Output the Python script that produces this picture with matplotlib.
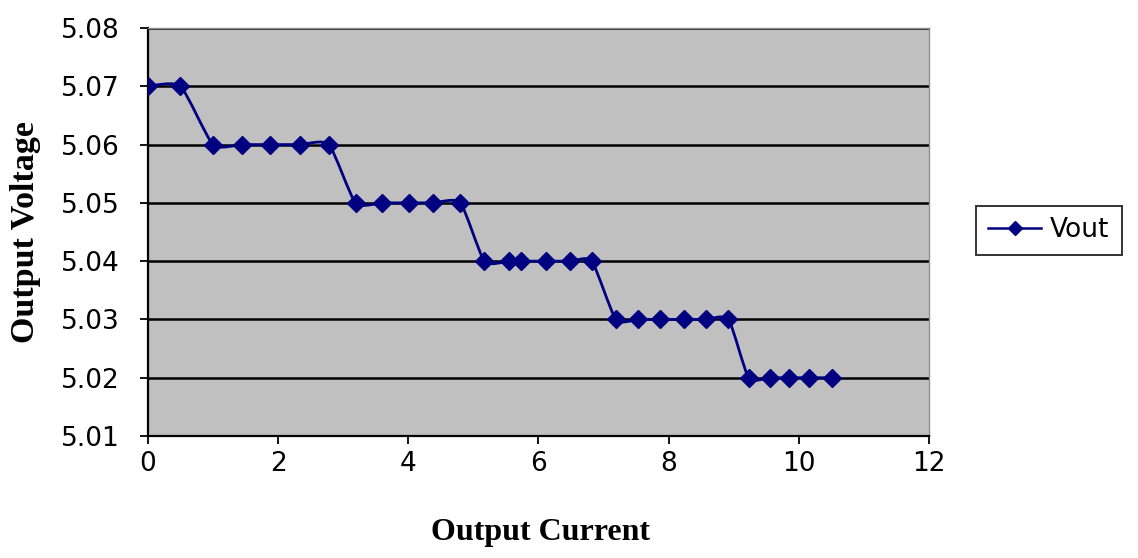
import numpy as np
import matplotlib.pyplot as plt
from matplotlib.path import Path
from matplotlib.patches import PathPatch
from matplotlib.lines import Line2D

# data
current = [0.0, 0.5,
           1.0, 1.44, 1.88, 2.33, 2.78,
           3.19, 3.60, 4.01, 4.38, 4.80,
           5.17, 5.54, 5.73, 6.11, 6.49, 6.82,
           7.19, 7.53, 7.87, 8.24, 8.57, 8.92,
           9.23, 9.56, 9.85, 10.15, 10.51]
vout = [5.07, 5.07,
        5.06, 5.06, 5.06, 5.06, 5.06,
        5.05, 5.05, 5.05, 5.05, 5.05,
        5.04, 5.04, 5.04, 5.04, 5.04, 5.04,
        5.03, 5.03, 5.03, 5.03, 5.03, 5.03,
        5.02, 5.02, 5.02, 5.02, 5.02]
xticks = [0, 2, 4, 6, 8, 10, 12]
yticks = [5.01, 5.02, 5.03, 5.04, 5.05, 5.06, 5.07, 5.08]

navy = '#000080'
plt.rcParams['font.family'] = ['DejaVu Sans']

fig = plt.figure(figsize=(11.38, 5.58), dpi=100)
ax = fig.add_axes([0.130, 0.2186, 0.6863, 0.7312])
ax.set_facecolor('#c0c0c0')

# smoothed line like the spreadsheet one (bezier through the points)
pts = np.column_stack([current, vout])
verts = [pts[0]]
codes = [Path.MOVETO]
n = len(pts)
k = 10.0
for i in range(n - 1):
    p0 = pts[max(i - 1, 0)]
    p1 = pts[i]
    p2 = pts[i + 1]
    p3 = pts[min(i + 2, n - 1)]
    c1 = p1 + (p2 - p0) / k
    c2 = p2 - (p3 - p1) / k
    verts += [c1, c2, p2]
    codes += [Path.CURVE4] * 3
ax.add_patch(PathPatch(Path(verts, codes), facecolor='none',
                       edgecolor=navy, lw=2.0, zorder=3))
ax.plot(current, vout, ls='none', marker='D', ms=9, color=navy, zorder=4)

ax.set_xlim(0, 12)
ax.set_ylim(5.01, 5.08)
ax.set_xticks(xticks)
ax.set_yticks(yticks)
ax.set_yticklabels(['%.2f' % v for v in yticks])
ax.yaxis.grid(True, color='black', lw=1.8)
ax.set_axisbelow(True)
ax.tick_params(labelsize=19, length=6, width=1.3, direction='out')
ax.tick_params(axis='y', pad=14)
ax.tick_params(axis='x', pad=5)

for s in ['top', 'right']:
    ax.spines[s].set_color('#909090')
    ax.spines[s].set_linewidth(1.0)
for s in ['left', 'bottom']:
    ax.spines[s].set_color('black')
    ax.spines[s].set_linewidth(1.6)

lab_font = dict(family=['Liberation Serif', 'DejaVu Serif'],
                fontweight='bold')
fig.text(0.475, 0.045, 'Output Current', ha='center', va='center',
         fontsize=23, **lab_font)
fig.text(0.022, 0.584, 'Output Voltage', ha='center', va='center',
         rotation=90, fontsize=24.5, **lab_font)

handle = Line2D([], [], color=navy, lw=1.8, marker='D', ms=7)
leg = fig.legend([handle], ['Vout'], loc='center left',
                 bbox_to_anchor=(0.858, 0.587), fontsize=19,
                 frameon=True, fancybox=False, edgecolor='black',
                 handlelength=2.0, handletextpad=0.35, borderpad=0.45,
                 borderaxespad=0.0)
leg.get_frame().set_linewidth(1.4)

plt.savefig('out.png', dpi=100)
